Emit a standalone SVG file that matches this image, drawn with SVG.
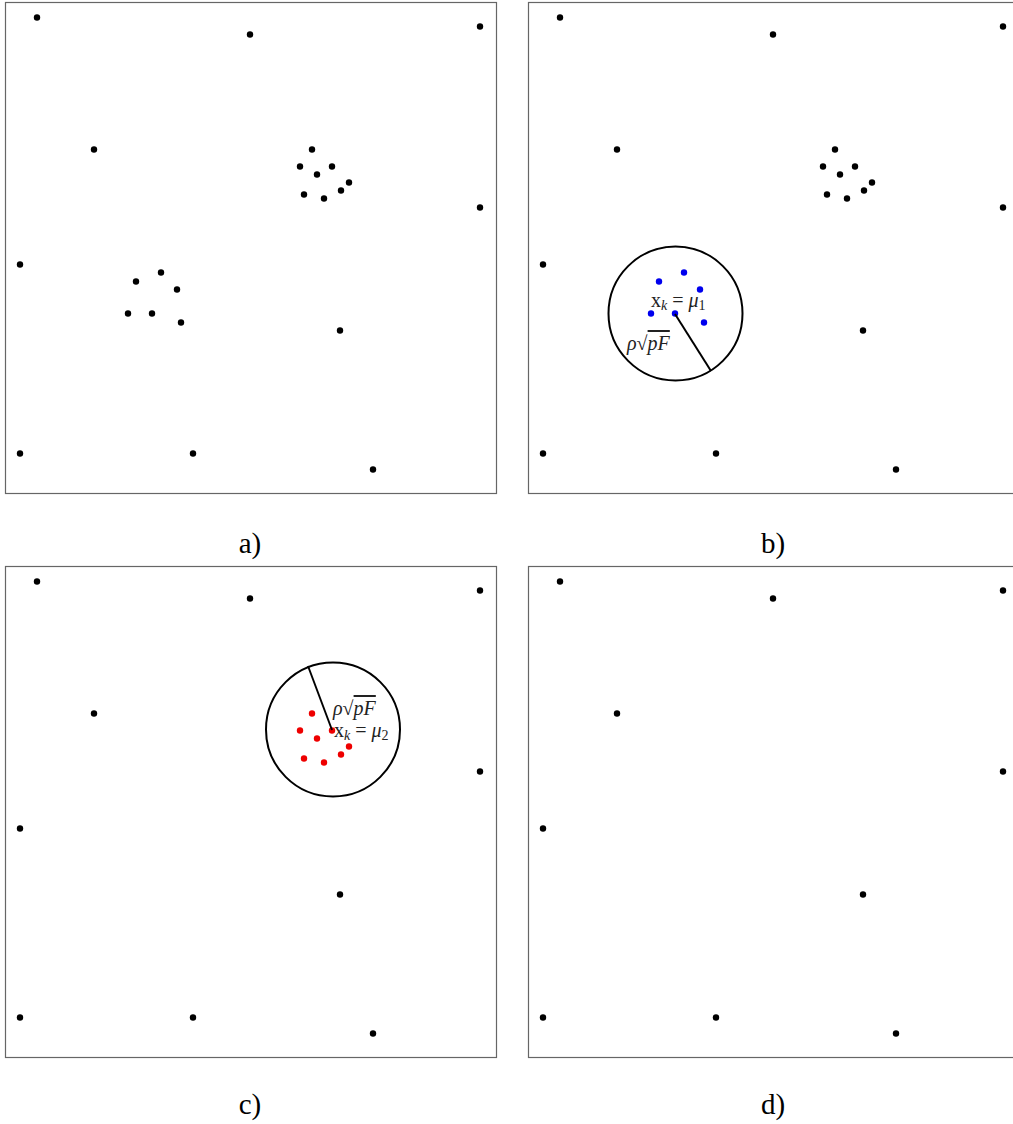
<svg xmlns="http://www.w3.org/2000/svg" width="1013" height="1124" viewBox="0 0 1013 1124">
<style>
.frame{fill:none;stroke:#666;stroke-width:1.2}
.k{fill:#000}
.b{fill:#0000ee}
.r{fill:#ee0000}
.circ{fill:none;stroke:#000;stroke-width:2}
.rad{stroke:#000;stroke-width:2}
.cap{font-family:"Liberation Serif","DejaVu Serif",serif;font-size:29px;fill:#000;text-anchor:middle}
.m{font-family:"Liberation Serif","DejaVu Serif",serif;font-size:20px;fill:#222}
.sub{font-size:14px}
</style>
<defs>
<circle id="d" r="3.2"/>
<g id="bg">
<use href="#d" x="37" y="17.5"/>
<use href="#d" x="250" y="34.5"/>
<use href="#d" x="480" y="26.5"/>
<use href="#d" x="94" y="149.5"/>
<use href="#d" x="480" y="207.5"/>
<use href="#d" x="20" y="264.5"/>
<use href="#d" x="340" y="330.5"/>
<use href="#d" x="20" y="453.5"/>
<use href="#d" x="193" y="453.5"/>
<use href="#d" x="373" y="469.5"/>
</g>
<g id="c1">
<use href="#d" x="312" y="149.5"/>
<use href="#d" x="300" y="166.5"/>
<use href="#d" x="332" y="166.5"/>
<use href="#d" x="317" y="174.5"/>
<use href="#d" x="349" y="182.5"/>
<use href="#d" x="341" y="190.5"/>
<use href="#d" x="304" y="194.5"/>
<use href="#d" x="324" y="198.5"/>
</g>
<g id="c2">
<use href="#d" x="161" y="272.5"/>
<use href="#d" x="136" y="281.5"/>
<use href="#d" x="177" y="289.5"/>
<use href="#d" x="128" y="313.5"/>
<use href="#d" x="152" y="313.5"/>
<use href="#d" x="181" y="322.5"/>
</g>
</defs>
<g id="panel-a">
<rect class="frame" x="5.5" y="2.5" width="491" height="491"/>
<g class="k"><use href="#bg"/><use href="#c1"/><use href="#c2"/></g>
<text class="cap" x="250" y="553">a)</text>
</g>
<g id="panel-b">
<rect class="frame" x="528.5" y="2.5" width="491" height="491"/>
<g class="k" transform="translate(523,0)"><use href="#bg"/><use href="#c1"/></g>
<g class="b" transform="translate(523,0)"><use href="#c2"/></g>
<circle class="circ" cx="675.5" cy="313.5" r="67"/>
<line class="rad" x1="675" y1="314" x2="711" y2="371"/>
<text class="m" x="651" y="307">x<tspan class="sub" font-style="italic" dy="3">k</tspan><tspan dy="-3"> = </tspan><tspan font-style="italic">μ</tspan><tspan class="sub" dy="3">1</tspan></text>
<text class="m" x="627" y="350"><tspan font-style="italic">ρ</tspan>√<tspan font-style="italic" text-decoration="overline">pF</tspan></text>
<text class="cap" x="773" y="553">b)</text>
</g>
<g id="panel-c">
<rect class="frame" x="5.5" y="566.5" width="491" height="491"/>
<g class="k" transform="translate(0,564)"><use href="#bg"/></g>
<g class="r" transform="translate(0,564)"><use href="#c1"/></g>
<circle class="circ" cx="333" cy="729.5" r="67"/>
<line class="rad" x1="332" y1="730" x2="308" y2="666"/>
<text class="m" x="333" y="715"><tspan font-style="italic">ρ</tspan>√<tspan font-style="italic" text-decoration="overline">pF</tspan></text>
<text class="m" x="334" y="737">x<tspan class="sub" font-style="italic" dy="3">k</tspan><tspan dy="-3"> = </tspan><tspan font-style="italic">μ</tspan><tspan class="sub" dy="3">2</tspan></text>
<text class="cap" x="250" y="1114">c)</text>
</g>
<g id="panel-d">
<rect class="frame" x="528.5" y="566.5" width="491" height="491"/>
<g class="k" transform="translate(523,564)"><use href="#bg"/></g>
<text class="cap" x="773" y="1114">d)</text>
</g>
</svg>
